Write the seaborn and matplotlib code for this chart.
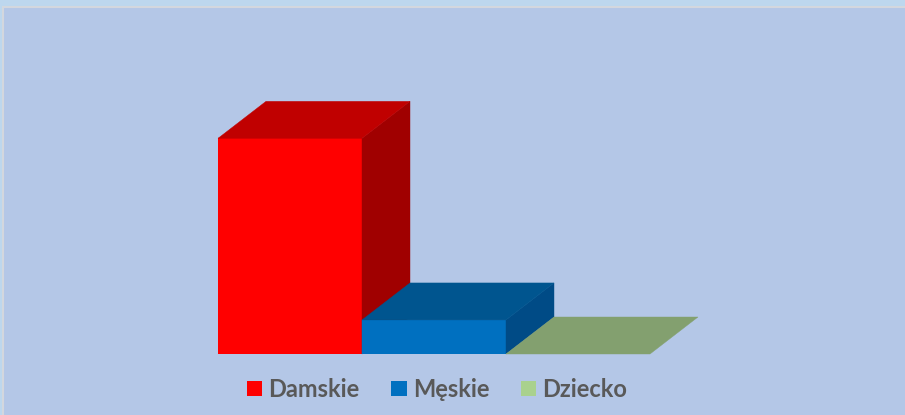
# Wykres słupkowy 3D: sprzedaż obuwia wg kategorii
import matplotlib
matplotlib.use("Agg")
import matplotlib.pyplot as plt
from matplotlib.patches import Polygon, Rectangle, Patch
import seaborn as sns
import numpy as np
import pandas as pd

categories = ["Damskie", "Męskie", "Dziecko"]
values = [19, 3, 0]

front_colors = ["#ff0000", "#0070c0", "#a9d18e"]
top_colors = ["#c00000", "#00558f", "#83a06f"]
side_colors = ["#a00000", "#004b86", "#6f8a5e"]

sns.set_style("white")
plt.rcParams["font.family"] = ["Lato", "DejaVu Sans"]

fig = plt.figure(figsize=(9.05, 4.15), dpi=100, facecolor="#bdd7ee")
fig.patches.append(Rectangle((3 / 905, -0.05), 1.1, (415 - 7) / 415 + 0.05,
                             transform=fig.transFigure, facecolor="#b4c7e7",
                             edgecolor="#d3d7de", lw=1.5, zorder=-1))

ax = fig.add_axes([218 / 905, 61 / 415, 432 / 905, 227 / 415])
ax.set_facecolor("none")
ax.set_zorder(1)

df = pd.DataFrame({"kategoria": categories, "wartosc": values})
sns.barplot(data=df, x="kategoria", y="wartosc", hue="kategoria",
            palette=front_colors, width=1, saturation=1, legend=False, ax=ax)
ax.set_xlim(-0.5, 2.5)
ax.set_ylim(0, 20)
ax.axis("off")

# głębokość słupków (w pikselach) przeliczona na jednostki danych
origin = ax.transData.transform((0, 0))
dx, dy = ax.transData.inverted().transform(origin + np.array([48, 37]))

for i, p in enumerate(ax.patches):
    x0, w, h = p.get_x(), p.get_width(), p.get_height()
    p.set_zorder(2 + i)
    p.set_edgecolor(front_colors[i])
    p.set_linewidth(0.3)
    side = [(x0 + w, 0), (x0 + w, h), (x0 + w + dx, h + dy), (x0 + w + dx, dy)]
    top = [(x0, h), (x0 + w, h), (x0 + w + dx, h + dy), (x0 + dx, h + dy)]
    if h > 0:
        ax.add_patch(Polygon(side, closed=True, facecolor=side_colors[i],
                             edgecolor=side_colors[i], lw=0.3, clip_on=False, zorder=2 + i))
    ax.add_patch(Polygon(top, closed=True, facecolor=top_colors[i],
                         edgecolor=top_colors[i], lw=0.3, clip_on=False, zorder=2 + i))

handles = [Patch(facecolor=c, edgecolor="none") for c in front_colors]
fig.legend(handles, categories, loc="center", bbox_to_anchor=(0.483, 0.062),
           ncol=3, frameon=False, handlelength=0.65, handleheight=0.65,
           handletextpad=0.25, columnspacing=1.35, labelcolor="#595959",
           prop={"family": "Lato", "weight": "bold", "size": 17})

fig.savefig("out.png", dpi=100, facecolor=fig.get_facecolor())
